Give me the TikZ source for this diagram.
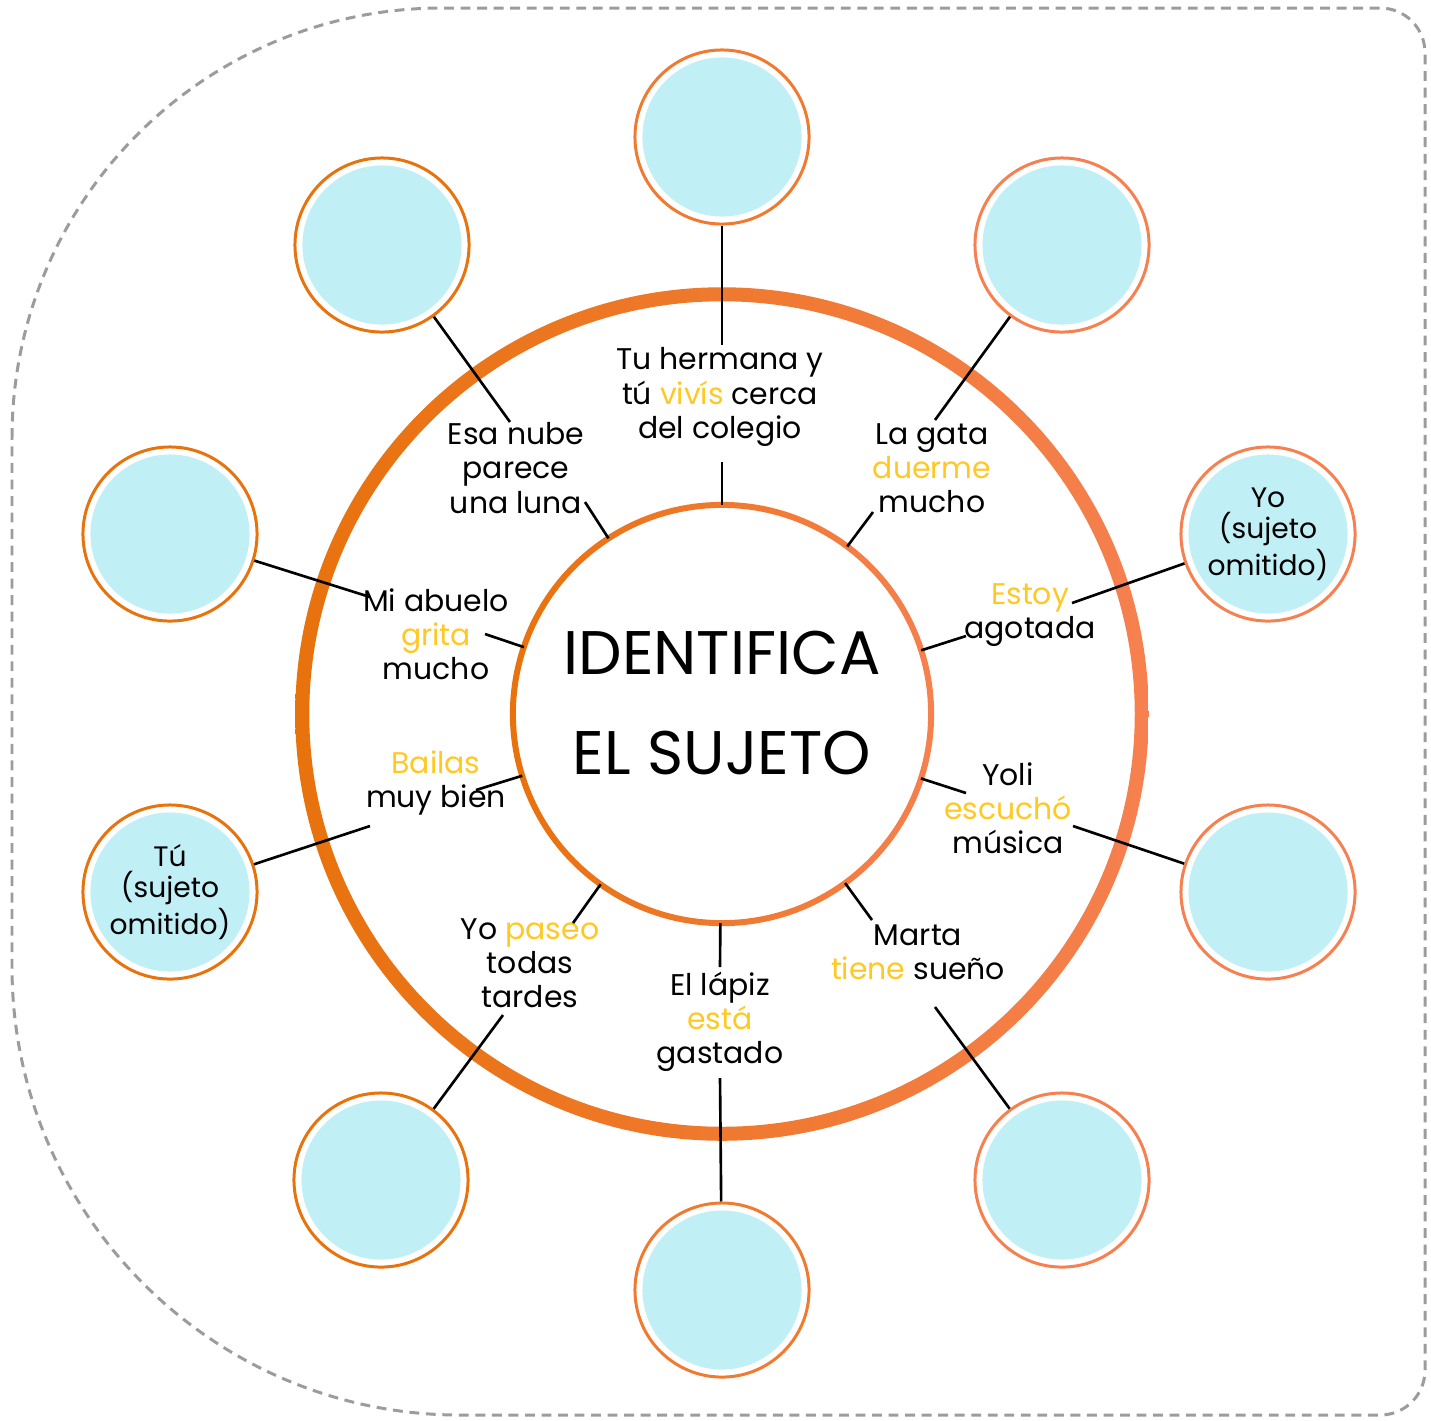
\documentclass[tikz,border=0pt]{standalone}
\usepackage{fontspec}
\setmainfont{Poppins}
\definecolor{ringL}{HTML}{E8720C}
\definecolor{ringR}{HTML}{F6804F}
\definecolor{ringM}{HTML}{F07A30}
\definecolor{bluef}{HTML}{C1EFF6}
\definecolor{amar}{HTML}{FFC822}
\definecolor{frameg}{HTML}{9C9C9C}
\newcommand{\amarillo}[1]{\textcolor{amar}{#1}}
\begin{document}
\begin{tikzpicture}[x=0.01cm,y=-0.01cm,
  bub/.style={circle, minimum size=1.74cm, inner sep=0pt, line width=0.85pt, fill=white, draw=#1,
    path picture={\fill[bluef] (path picture bounding box.center) circle (0.795cm);},
    align=center, font=\fontsize{8}{8.8}\selectfont},
  spoke/.style={line width=0.75pt, black},
  lbl/.style={align=center, inner sep=0pt, font=\fontsize{8.5}{9.7}\selectfont},
  framestyle/.style={draw=frameg, line width=0.85pt, dash pattern=on 2.8pt off 1.9pt}
]
\useasboundingbox (0,0) rectangle (1431,1420);
% frame
\draw[framestyle] (12,438) .. controls (12,200) and (205,8) .. (442,8) -- (1380,8)
  .. controls (1405,8) and (1425,28) .. (1425,53) -- (1425,1370)
  .. controls (1425,1395) and (1405,1415) .. (1380,1415) -- (460,1415)
  .. controls (213,1415) and (12,1214) .. (12,967) -- cycle;
% big ring
\coordinate (O) at (722,714);
\shade[left color=ringL, right color=ringR, even odd rule] (O) circle (4.265cm) (O) circle (4.125cm);
% inner circle
\node[circle, minimum size=4.18cm, inner sep=0pt, outer sep=0pt, fill=white] (ctr) at (O) {};
\shade[left color=ringL, right color=ringR, even odd rule] (O) circle (2.12cm) (O) circle (2.06cm);
\node[align=center, font=\fontsize{17.5}{28.5}\selectfont] (title) at (722,703) {IDENTIFICA\\EL SUJETO};
% bubbles
\node[bub=ringM] (c1) at (722,137) {};
\node[bub=ringR] (c2) at (1062,245) {};
\node[bub=ringR] (c3) at (1268,534) {Yo\\(sujeto\\omitido)};
\node[bub=ringR] (c4) at (1268,892) {};
\node[bub=ringR] (c5) at (1062,1180) {};
\node[bub=ringM] (c6) at (722,1290) {};
\node[bub=ringL] (c7) at (381,1180) {};
\node[bub=ringL] (c8) at (170,892) {Tú\\(sujeto\\omitido)};
\node[bub=ringL] (c9) at (170,534) {};
\node[bub=ringL] (c10) at (382,245) {};
% labels
\node[lbl] (t1) at (720,397) {Tu hermana y\\tú \amarillo{vivís} cerca\\del colegio};
\node[lbl] (t2) at (932,468) {La gata\\\amarillo{duerme}\\mucho};
\node[lbl] (t3) at (1030,615) {\amarillo{Estoy}\\agotada};
\node[lbl] (t4) at (1008,808) {Yoli\\\amarillo{escuchó}\\música};
\node[lbl] (t5) at (918,952) {Marta\\\amarillo{tiene} sueño};
\node[lbl] (t6) at (720,1022) {El lápiz\\\amarillo{está}\\gastado};
\node[lbl] (t7) at (530,963) {Yo \amarillo{paseo}\\todas\\tardes};
\node[lbl] (t8) at (436,783) {\amarillo{Bailas}\\muy bien};
\node[lbl] (t9) at (436,634) {Mi abuelo\\\amarillo{grita}\\mucho};
\node[lbl] (t10) at (516,468) {Esa nube\\parece\\una luna};
% spoke end points
\coordinate (a1) at (722,345);  \coordinate (b1) at (722,462);
\coordinate (a2) at (935,420);  \coordinate (b2) at (873,512);
\coordinate (a3) at (1072,603); \coordinate (b3) at (966,636);
\coordinate (a4) at (1073,826); \coordinate (b4) at (966,793);
\coordinate (a5) at (935,1007); \coordinate (b5) at (872,920);
\coordinate (a6) at (720,1078); \coordinate (b6) at (720,967);
\coordinate (a7) at (503,1015); \coordinate (b7) at (573,923);
\coordinate (a8) at (370,826);  \coordinate (b8) at (476,790);
\coordinate (a9) at (370,597);  \coordinate (b9) at (485,634);
\coordinate (a10) at (510,422); \coordinate (b10) at (585,502);
% spokes
\draw[spoke] (c1) -- (a1);  \draw[spoke] (b1) -- (ctr);
\draw[spoke] (c2) -- (a2);  \draw[spoke] (b2) -- (ctr);
\draw[spoke] (c3) -- (a3);  \draw[spoke] (b3) -- (ctr);
\draw[spoke] (c4) -- (a4);  \draw[spoke] (b4) -- (ctr);
\draw[spoke] (c5) -- (a5);  \draw[spoke] (b5) -- (ctr);
\draw[spoke] (c6) -- (a6);  \draw[spoke] (b6) -- (ctr);
\draw[spoke] (c7) -- (a7);  \draw[spoke] (b7) -- (ctr);
\draw[spoke] (c8) -- (a8);  \draw[spoke] (b8) -- (ctr);
\draw[spoke] (c9) -- (a9);  \draw[spoke] (b9) -- (ctr);
\draw[spoke] (c10) -- (a10); \draw[spoke] (b10) -- (ctr);
\end{tikzpicture}
\end{document}
